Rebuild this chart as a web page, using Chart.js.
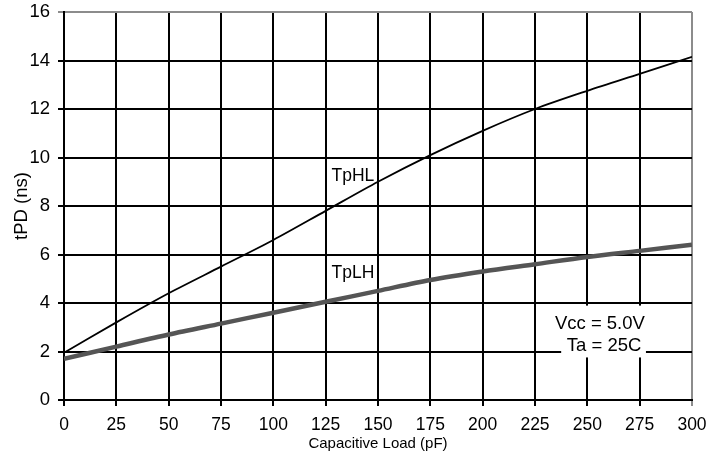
<!DOCTYPE html>
<html>
<head>
<meta charset="utf-8">
<script src="https://cdn.jsdelivr.net/npm/chart.js@4.4.0/dist/chart.umd.min.js"></script>
<style>
  html, body { margin: 0; padding: 0; background: #fff; }
  #wrap { width: 727px; height: 466px; }
</style>
</head>
<body>
<div id="wrap"><canvas id="grafico" width="727" height="466"></canvas></div>
<script>
const carga = [0, 25, 50, 75, 100, 125, 150, 175, 200, 225, 250, 275, 300];
const tpHL = [1.95, 3.2, 4.4, 5.5, 6.6, 7.8, 9.0, 10.1, 11.1, 12.0, 12.75, 13.45, 14.15];
const tpLH = [1.7, 2.2, 2.7, 3.15, 3.6, 4.05, 4.5, 4.95, 5.3, 5.6, 5.9, 6.15, 6.4];
const etiquetas = [
  { text: 'TpHL', x: 138, y: 9.25 },
  { text: 'TpLH', x: 138, y: 5.25 }
];
const notas = [
  { text: 'Vcc = 5.0V', x: 256, y: 3.15 },
  { text: 'Ta = 25C', x: 258, y: 2.25 }
];

const FUENTE = '"Liberation Sans", Arial, sans-serif';

const anotaciones = {
  id: 'anotaciones',
  afterDatasetsDraw(chart) {
    const { ctx, scales: { x, y } } = chart;
    ctx.save();
    ctx.fillStyle = '#000';
    ctx.textAlign = 'center';
    ctx.textBaseline = 'middle';
    ctx.font = '17.5px ' + FUENTE;
    etiquetas.forEach(e => ctx.fillText(e.text, x.getPixelForValue(e.x), y.getPixelForValue(e.y)));

    // caja blanca detras de las condiciones
    const izq = x.getPixelForValue(237.5);
    const der = x.getPixelForValue(278);
    const arriba = y.getPixelForValue(notas[0].y) - 18;
    const abajo = y.getPixelForValue(notas[1].y) + 12;
    ctx.fillStyle = '#fff';
    ctx.fillRect(izq, arriba, der - izq, abajo - arriba);
    ctx.fillStyle = '#000';
    ctx.font = '18.5px ' + FUENTE;
    notas.forEach(n => ctx.fillText(n.text, x.getPixelForValue(n.x), y.getPixelForValue(n.y)));
    ctx.restore();
  }
};

const colorRejilla = (ctx, total) => ctx.index === total ? '#8c8c8c' : '#000';

new Chart(document.getElementById('grafico').getContext('2d'), {
  type: 'line',
  data: {
    datasets: [
      {
        label: 'TpHL',
        data: carga.map((c, i) => ({ x: c, y: tpHL[i] })),
        borderColor: '#000',
        borderWidth: 1.8,
        pointRadius: 0,
        tension: 0.3,
        fill: false
      },
      {
        label: 'TpLH',
        data: carga.map((c, i) => ({ x: c, y: tpLH[i] })),
        borderColor: '#555',
        borderWidth: 4.5,
        pointRadius: 0,
        tension: 0.3,
        fill: false
      }
    ]
  },
  options: {
    responsive: false,
    animation: false,
    layout: { padding: { top: 12, right: 35, left: 11, bottom: 9 } },
    plugins: {
      legend: { display: false },
      tooltip: { enabled: false }
    },
    scales: {
      x: {
        type: 'linear',
        min: 0,
        max: 300,
        afterFit(s) { s.height = 57; s.paddingLeft = 0; s.paddingRight = 0; },
        ticks: {
          stepSize: 25,
          color: '#000',
          padding: 9,
          font: { size: 17.5, family: FUENTE }
        },
        grid: {
          color: ctx => colorRejilla(ctx, 12),
          lineWidth: 2,
          tickLength: 6
        },
        border: { color: '#000', width: 2 },
        title: {
          display: true,
          text: 'Capacitive Load (pF)',
          color: '#000',
          padding: { top: 0 },
          font: { size: 15, family: FUENTE }
        }
      },
      y: {
        min: 0,
        max: 16,
        afterFit(s) { s.width = 53; s.paddingTop = 0; s.paddingBottom = 0; },
        ticks: {
          stepSize: 2,
          color: '#000',
          padding: 8,
          font: { size: 18.5, family: FUENTE }
        },
        grid: {
          color: ctx => colorRejilla(ctx, 8),
          lineWidth: 2,
          tickLength: 6
        },
        border: { color: '#000', width: 2 },
        title: {
          display: true,
          text: 'tPD (ns)',
          color: '#000',
          padding: { top: 0, bottom: 4 },
          font: { size: 18.5, family: FUENTE }
        }
      }
    }
  },
  plugins: [anotaciones]
});
</script>
</body>
</html>
